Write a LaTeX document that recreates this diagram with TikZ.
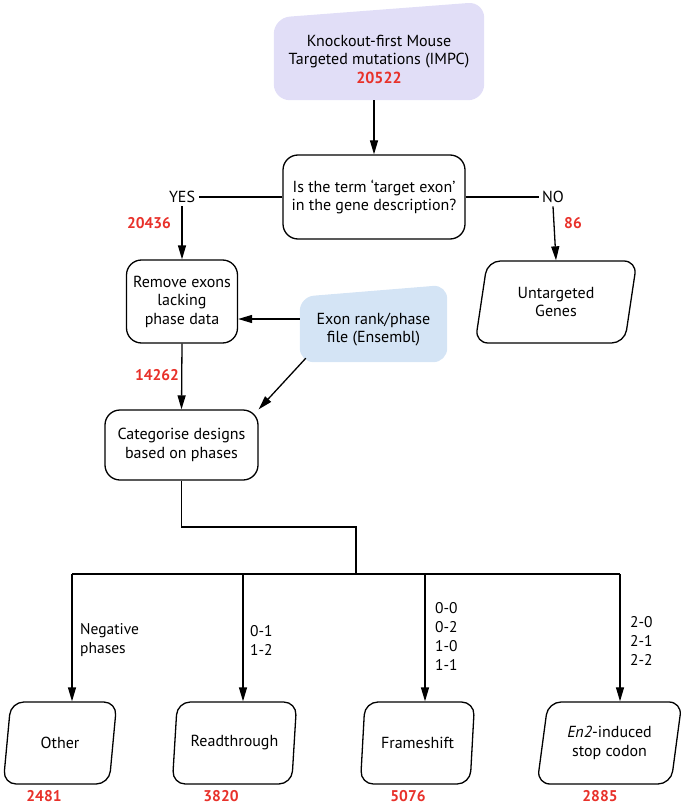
\documentclass[tikz,border=0pt]{standalone}
\usepackage{fontspec}
\setmainfont{PT Sans}
\usetikzlibrary{arrows.meta,shapes.geometric,backgrounds}
\definecolor{mouselilac}{RGB}{225,222,247}
\definecolor{ensblue}{RGB}{212,228,245}
\definecolor{countred}{RGB}{232,49,42}
\tikzset{
  stepbox/.style={draw, line width=1.3pt, rounded corners=15pt, align=center, inner sep=2pt},
  outbox/.style={draw, line width=1.3pt, trapezium, trapezium left angle=78, trapezium right angle=102,
    trapezium stretches=true, rounded corners=13pt, minimum height=82pt, align=center, inner sep=2pt},
  srcbox/.style={align=center, inner sep=0pt},
  tally/.style={text=countred, inner sep=0.5pt, font=\bfseries\fontsize{15.5}{18}\selectfont},
  arr/.style={line width=1.3pt, -{Triangle[length=14pt,width=8pt]}},
  link/.style={line width=1.3pt},
  phases/.style={align=left, anchor=west, inner sep=0pt, font=\fontsize{15.5}{19}\selectfont}
}
\begin{document}
\begin{tikzpicture}[x=1pt,y=-1pt,font=\fontsize{16}{18.5}\selectfont]
		\useasboundingbox (0,0) rectangle (685,805);
		
		% Source boxes
		\node[srcbox, minimum width=210pt, minimum height=82pt] (mouse) at (379,59)
			{Knockout-first Mouse\\Targeted mutations (IMPC)\\\textcolor{countred}{\bfseries 20522}};
		\node[srcbox, minimum width=147pt, minimum height=65pt] (exonfile) at (373.5,329.5)
			{Exon rank/phase\\file (Ensembl)};
		\begin{scope}[on background layer]
			\fill[mouselilac, rounded corners=16pt] (mouse.south west) -- (mouse.north west)
				-- ([yshift=16pt]mouse.north east) -- (mouse.south east) -- cycle;
			\fill[ensblue, rounded corners=14pt] (exonfile.south west) -- (exonfile.north west)
				-- ([yshift=12pt]exonfile.north east) -- (exonfile.south east) -- cycle;
		\end{scope}
		
		% Decision
		\node[stepbox, minimum width=182pt, minimum height=84pt] (query) at (374,197)
			{Is the term `target exon'\\in the gene description?};
		\node (yes) at (182,197) {YES};
		\node (no) at (553,197) {NO};
		
		% Processing steps
		\node[stepbox, minimum width=111pt, minimum height=83pt] (remove) at (182,301.5)
			{Remove exons\\lacking\\phase data};
		\node[outbox, minimum width=162pt] (untargeted) at (556,302) {Untargeted\\Genes};
		\node[stepbox, minimum width=153pt, minimum height=70pt] (categorise) at (181.5,445)
			{Categorise designs\\based on phases};
		
		% Outcome boxes
		\node[outbox, minimum width=114pt] (other) at (60,743) {Other};
		\node[outbox, minimum width=125pt] (readthrough) at (234.5,743) {Readthrough};
		\node[outbox, minimum width=115pt] (frameshift) at (417.5,743) {Frameshift};
		\node[outbox, minimum width=145pt] (stopcodon) at (609.5,743) {\textit{En2}-induced\\stop codon};
		
		% Counts
		\node[tally] (n20436) at (149,223) {20436};
		\node[tally] (n86) at (573,223) {86};
		\node[tally] (n14262) at (157,375) {14262};
		\node[tally] (n2481) at (44,796) {2481};
		\node[tally] (n3820) at (221,796) {3820};
		\node[tally] (n5076) at (408,796) {5076};
		\node[tally] (n2885) at (600,796) {2885};
		
		% Connectors
		\draw[arr] (mouse.south -| query.north) -- (query.north);
		\draw[link] (query.west) -- (yes.east);
		\draw[link] (query.east) -- (no.west);
		\draw[arr] (yes.south) -- (remove.north);
		\draw[arr] (no.south) -- (untargeted.north);
		\draw[arr] ([yshift=10.5pt]exonfile.west) -- ([yshift=10.5pt]exonfile.west -| remove.east);
		\draw[arr] ([shift={(6pt,4pt)}]exonfile.south west) -- (categorise.north east);
		\draw[arr] (remove.south) -- (categorise.north);
		
		% Branching to the phase classes
		\coordinate (split) at (356,527);
		\coordinate (busleft) at (72,574);
		\coordinate (busright) at (620,574);
		\draw[link] (categorise.south) |- (split) -- (split |- busleft);
		\draw[link] (busleft) -- (busright);
		\foreach \x/\target in {72/other, 243/readthrough, 425/frameshift, 620/stopcodon}{
			\coordinate (drop-\target) at (\x,574);
			\draw[arr] (drop-\target) -- (drop-\target |- \target.north);
		}
		
		% Phase labels
		\node[phases] (lblother) at (80,640) {Negative\\phases};
		\node[phases] (lblread) at (250,640.5) {0-1\\1-2};
		\node[phases] (lblframe) at (435,636.5) {0-0\\0-2\\1-0\\1-1};
		\node[phases] (lblstop) at (630,641) {2-0\\2-1\\2-2};
		
	\end{tikzpicture}
\end{document}
